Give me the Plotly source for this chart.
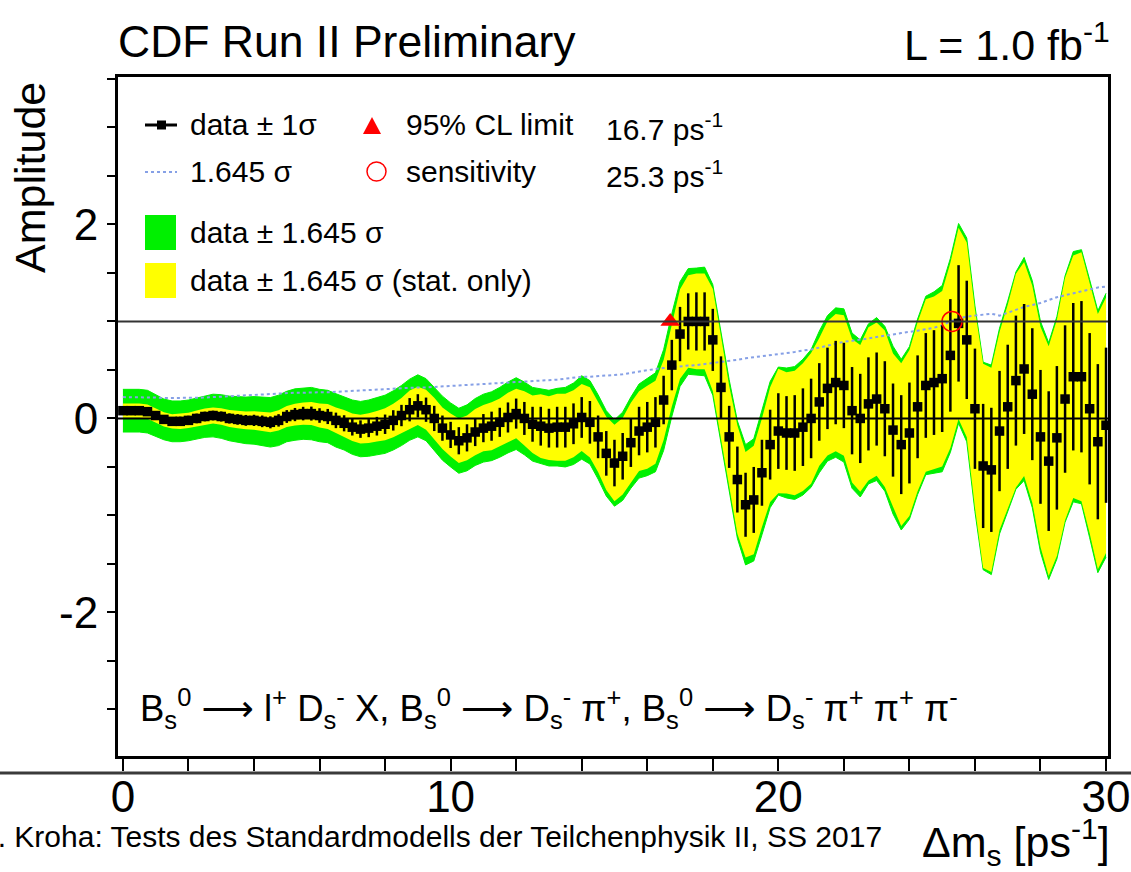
"""Amplitude scan for B_s mixing (CDF Run II, 1.0 fb^-1), redrawn with Plotly."""
import plotly.graph_objects as go

W, H = 1131, 872
L, R, T, B = 118, 23, 77, 116          # plot frame in page pixels
PW, PH = W - L - R, H - T - B

FONT = "Liberation Sans, Arial, Helvetica, sans-serif"
GREEN = "#00f000"
YELLOW = "#ffff00"
DOTS = "#86a0e6"

# --- data -----------------------------------------------------------------
# scan points, delta m_s in ps^-1
dms = [
    0.0, 0.25, 0.5, 0.75, 1.0, 1.25, 1.5, 1.75, 2.0, 2.25, 2.5, 2.75,
    3.0, 3.25, 3.5, 3.75, 4.0, 4.25, 4.5, 4.75, 5.0, 5.25, 5.5, 5.75,
    6.0, 6.25, 6.5, 6.75, 7.0, 7.25, 7.5, 7.75, 8.0, 8.25, 8.5, 8.75,
    9.0, 9.25, 9.5, 9.75, 10.0, 10.25, 10.5, 10.75, 11.0, 11.25, 11.5, 11.75,
    12.0, 12.25, 12.5, 12.75, 13.0, 13.25, 13.5, 13.75, 14.0, 14.25, 14.5, 14.75,
    15.0, 15.25, 15.5, 15.75, 16.0, 16.25, 16.5, 16.75, 17.0, 17.25, 17.5, 17.75,
    18.0, 18.25, 18.5, 18.75, 19.0, 19.25, 19.5, 19.75, 20.0, 20.25, 20.5, 20.75,
    21.0, 21.25, 21.5, 21.75, 22.0, 22.25, 22.5, 22.75, 23.0, 23.25, 23.5, 23.75,
    24.0, 24.25, 24.5, 24.75, 25.0, 25.25, 25.5, 25.75, 26.0, 26.25, 26.5, 26.75,
    27.0, 27.25, 27.5, 27.75, 28.0, 28.25, 28.5, 28.75, 29.0, 29.25, 29.5, 29.75,
    30.0,
]

# fitted amplitude
amp = [
    0.08, 0.08, 0.08, 0.07, 0.03, -0.01, -0.03, -0.03, -0.02, 0.00, 0.02, 0.03,
    0.02, 0.00, -0.01, -0.02, -0.02, -0.03, -0.04, -0.02, 0.02, 0.04, 0.05, 0.05,
    0.03, 0.02, -0.02, -0.05, -0.09, -0.11, -0.10, -0.08, -0.06, -0.02, 0.03, 0.09,
    0.13, 0.09, 0.00, -0.10, -0.17, -0.23, -0.20, -0.14, -0.10, -0.08, -0.04, 0.01,
    0.05, 0.00, -0.06, -0.08, -0.10, -0.09, -0.09, -0.055, 0.01, -0.04, -0.19, -0.36,
    -0.46, -0.39, -0.25, -0.13, -0.09, -0.04, 0.19, 0.55, 0.87, 1.00, 1.00, 1.00,
    0.81, 0.32, -0.19, -0.63, -0.89, -0.84, -0.56, -0.27, -0.13, -0.15, -0.15, -0.09,
    0.00, 0.17, 0.31, 0.37, 0.34, 0.08, 0.00, 0.15, 0.20, 0.10, -0.12, -0.27,
    -0.15, 0.12, 0.34, 0.37, 0.41, 0.65, 0.98, 0.81, 0.10, -0.49, -0.53, -0.13,
    0.12, 0.39, 0.51, 0.25, -0.19, -0.44, -0.20, 0.20, 0.43, 0.43, 0.10, -0.24,
    -0.07,
]

# statistical uncertainty (error bars)
err = [
    0.045, 0.045, 0.045, 0.045, 0.045, 0.045, 0.045, 0.048, 0.048, 0.05, 0.05, 0.05,
    0.052, 0.053, 0.055, 0.056, 0.058, 0.06, 0.062, 0.064, 0.066, 0.068, 0.07, 0.072,
    0.075, 0.078, 0.08, 0.083, 0.086, 0.09, 0.093, 0.096, 0.10, 0.105, 0.11, 0.12,
    0.12, 0.125, 0.13, 0.13, 0.135, 0.14, 0.14, 0.145, 0.145, 0.15, 0.15, 0.155,
    0.155, 0.17, 0.18, 0.20, 0.20, 0.21, 0.21, 0.21, 0.21, 0.22, 0.22, 0.23,
    0.24, 0.24, 0.25, 0.25, 0.26, 0.26, 0.25, 0.26, 0.28, 0.29, 0.30, 0.30,
    0.32, 0.32, 0.32, 0.34, 0.33, 0.34, 0.34, 0.36, 0.39, 0.38, 0.39, 0.40,
    0.41, 0.40, 0.42, 0.43, 0.44, 0.45, 0.46, 0.48, 0.48, 0.49, 0.48, 0.51,
    0.52, 0.53, 0.54, 0.54, 0.55, 0.58, 0.60, 0.61, 0.62, 0.64, 0.64, 0.62,
    0.64, 0.67, 0.67, 0.68, 0.69, 0.72, 0.74, 0.76, 0.76, 0.78, 0.78, 0.80,
    0.80,
]

# 1.645 sigma, total uncertainty (dotted curve)
lim = [
    0.22, 0.22, 0.22, 0.22, 0.215, 0.21, 0.21, 0.21, 0.21, 0.21, 0.215, 0.22,
    0.225, 0.23, 0.235, 0.24, 0.245, 0.25, 0.255, 0.26, 0.26, 0.265, 0.265, 0.27,
    0.27, 0.27, 0.275, 0.275, 0.28, 0.285, 0.29, 0.295, 0.30, 0.305, 0.31, 0.315,
    0.32, 0.32, 0.325, 0.33, 0.33, 0.335, 0.34, 0.345, 0.35, 0.355, 0.36, 0.365,
    0.37, 0.375, 0.38, 0.385, 0.39, 0.40, 0.41, 0.42, 0.43, 0.43, 0.435, 0.44,
    0.445, 0.455, 0.47, 0.485, 0.50, 0.51, 0.52, 0.53, 0.54, 0.545, 0.55, 0.56,
    0.57, 0.58, 0.59, 0.605, 0.62, 0.63, 0.64, 0.65, 0.66, 0.67, 0.685, 0.70,
    0.71, 0.73, 0.75, 0.77, 0.79, 0.80, 0.81, 0.825, 0.84, 0.85, 0.865, 0.88,
    0.89, 0.905, 0.92, 0.935, 0.96, 1.00, 1.03, 1.05, 1.06, 1.07, 1.08, 1.06,
    1.09, 1.12, 1.15, 1.17, 1.19, 1.22, 1.25, 1.27, 1.29, 1.31, 1.33, 1.35,
    1.36,
]

limit_dms = 16.7        # 95% CL limit, ps^-1
sens_dms = 25.3         # sensitivity, ps^-1
z95 = 1.645

green_lo = [a - s for a, s in zip(amp, lim)]
green_hi = [a + s for a, s in zip(amp, lim)]
yellow_lo = [a - z95 * e for a, e in zip(amp, err)]
yellow_hi = [a + z95 * e for a, e in zip(amp, err)]


def fx(p):
    """page pixel column -> paper x"""
    return (p - L) / PW


def fy(p):
    """page pixel row -> paper y"""
    return (H - B - p) / PH


fig = go.Figure()

fig.add_trace(go.Scatter(x=dms, y=green_lo, mode="lines",
                         line={"color": GREEN, "width": 1}, hoverinfo="skip"))
fig.add_trace(go.Scatter(x=dms, y=green_hi, mode="lines", fill="tonexty",
                         fillcolor=GREEN, line={"color": GREEN, "width": 1},
                         hoverinfo="skip"))
fig.add_trace(go.Scatter(x=dms, y=yellow_lo, mode="lines",
                         line={"color": YELLOW, "width": 0}, hoverinfo="skip"))
fig.add_trace(go.Scatter(x=dms, y=yellow_hi, mode="lines", fill="tonexty",
                         fillcolor=YELLOW, line={"color": YELLOW, "width": 0},
                         hoverinfo="skip"))
fig.add_trace(go.Scatter(x=dms, y=lim, mode="lines",
                         line={"color": DOTS, "width": 2, "dash": "dot"}))

fig.add_hline(y=0, line={"color": "black", "width": 2})
fig.add_hline(y=1, line={"color": "#333333", "width": 2})

fig.add_trace(go.Scatter(
    x=dms, y=amp, mode="markers",
    marker={"symbol": "square", "size": 9.5, "color": "black"},
    error_y={"type": "data", "array": err, "color": "black",
             "thickness": 2.5, "width": 0},
    error_x={"type": "constant", "value": 0.125, "color": "black",
             "thickness": 2, "width": 0},
))
fig.add_trace(go.Scatter(x=[limit_dms], y=[1.0], mode="markers",
                         marker={"symbol": "triangle-up", "size": 17,
                                 "color": "red"}))
fig.add_trace(go.Scatter(x=[sens_dms], y=[1.0], mode="markers",
                         marker={"symbol": "circle-open", "size": 20,
                                 "color": "red", "line": {"width": 1.5}}))


# ---- hand-made legend and page furniture ---------------------------------
def paper_shape(**kw):
    fig.add_shape(xref="paper", yref="paper", layer="above", **kw)


# x-axis rule running across the whole page
paper_shape(type="line", x0=fx(0), x1=fx(W), y0=fy(773), y1=fy(773),
            line={"color": "#3a3a3a", "width": 3})
paper_shape(type="line", x0=fx(145), x1=fx(177), y0=fy(125), y1=fy(125),
            line={"color": "black", "width": 3})
paper_shape(type="rect", x0=fx(157), x1=fx(166), y0=fy(129.5), y1=fy(120.5),
            fillcolor="black", line={"width": 0})
paper_shape(type="line", x0=fx(145), x1=fx(177), y0=fy(172), y1=fy(172),
            line={"color": DOTS, "width": 2, "dash": "dot"})
paper_shape(type="rect", x0=fx(145), x1=fx(176), y0=fy(250), y1=fy(215),
            fillcolor=GREEN, line={"width": 0})
paper_shape(type="rect", x0=fx(145), x1=fx(176), y0=fy(298), y1=fy(263),
            fillcolor=YELLOW, line={"width": 0})
paper_shape(type="path",
            path=f"M {fx(363)},{fy(134)} L {fx(381)},{fy(134)} L {fx(372)},{fy(117)} Z",
            fillcolor="red", line={"width": 0})
paper_shape(type="circle", x0=fx(367), x1=fx(386), y0=fy(181), y1=fy(162),
            line={"color": "red", "width": 1.5})


def label(text, px, py, size=30, anchor="left", **kw):
    fig.add_annotation(text=text, xref="paper", yref="paper", x=fx(px), y=fy(py),
                       xanchor=anchor, yanchor="middle", showarrow=False,
                       font={"family": FONT, "size": size, "color": "black"}, **kw)


ARROW = '<span style="font-family:DejaVu Sans">⟶</span>'

label("data ± 1σ", 188, 125)
label("1.645 σ", 188, 172)
label("95% CL limit", 404, 125)
label("sensitivity", 404, 172)
label(f"{limit_dms:.1f} ps<sup>-1</sup>", 604, 127)
label(f"{sens_dms:.1f} ps<sup>-1</sup>", 604, 174)
label("data ± 1.645 σ", 188, 233)
label("data ± 1.645 σ (stat. only)", 188, 280)

label("CDF Run II Preliminary", 116, 42, size=44.5)
label("L = 1.0 fb<sup>-1</sup>", 1112, 42, size=43, anchor="right")
label("Amplitude", 30, 178, size=43, anchor="center", textangle=-90)
label("Δm<sub>s</sub> [ps<sup>-1</sup>]", 1112, 842, size=43, anchor="right")
label(f"B<sub>s</sub><sup>0</sup> {ARROW} l<sup>+</sup> D<sub>s</sub><sup>-</sup> X, "
      f"B<sub>s</sub><sup>0</sup> {ARROW} D<sub>s</sub><sup>-</sup> π<sup>+</sup>, "
      f"B<sub>s</sub><sup>0</sup> {ARROW} D<sub>s</sub><sup>-</sup> π<sup>+</sup> "
      "π<sup>+</sup> π<sup>-</sup>", 138, 708, size=36.5)
label("H. Kroha: Tests des Standardmodells der Teilchenphysik II, SS 2017",
      884, 836, size=30, anchor="right")

axis_common = dict(showline=True, linecolor="black", linewidth=3, mirror=True,
                   showgrid=False, zeroline=False, ticks="outside",
                   tickcolor="black", tickwidth=2, automargin=False,
                   tickfont={"family": FONT, "size": 44, "color": "black"})

fig.update_layout(
    width=W, height=H,
    margin={"l": L, "r": R, "t": T, "b": B, "pad": 0},
    paper_bgcolor="white", plot_bgcolor="white",
    showlegend=False,
    xaxis=dict(axis_common, range=[-0.15, 30.06], tickvals=[0, 10, 20, 30],
               ticklen=12, ticklabelstandoff=-12,
               minor={"ticks": "outside", "tick0": 0, "dtick": 2, "ticklen": 12,
                      "tickcolor": "black", "tickwidth": 2}),
    yaxis=dict(axis_common, range=[-3.48, 3.52], tickvals=[-2, 0, 2],
               ticktext=["-2", "0", "2"], ticklen=8,
               minor={"ticks": "outside", "tick0": 0, "dtick": 0.5, "ticklen": 8,
                      "tickcolor": "black", "tickwidth": 2}),
)

fig.write_html("out.html", config={"displayModeBar": False},
               post_script="document.body.style.margin='0';")
